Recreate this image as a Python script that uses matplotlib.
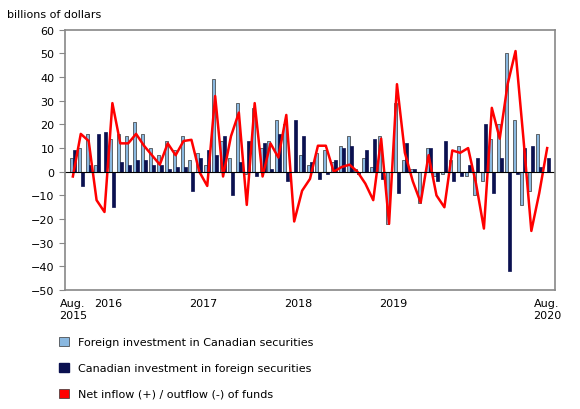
import matplotlib
matplotlib.use("Agg")
import matplotlib.pyplot as plt
import numpy as np
from matplotlib.patches import Patch
from matplotlib.lines import Line2D

# Monthly, Aug 2015 - Aug 2020
foreign = [6, 10, 16, 3, 0, 14, 16, 15, 21, 16, 10, 7, 13, 9, 15, 5, 8, 3, 39, 13,
           6, 29, -1, 27, 10, 13, 22, 20, 0, 7, 3, 8, 9, 4, 11, 15, 1, 6, 2, 15,
           -22, 29, 5, 1, -13, 10, -2, -1, 5, 11, -2, -10, -4, 14, 20, 50, 22, -14, -8, 16]
canadian = [9, -6, 3, 16, 17, -15, 4, 3, 5, 5, 3, 3, 1, 2, 2, -8, 6, 9, 7, 15,
            -10, 4, 13, -2, 12, 1, 16, -4, 22, 15, 4, -3, -1, 5, 10, 11, -1, 9, 14, -3,
            0, -9, 12, 1, 0, 10, -4, 13, -4, -2, 3, 6, 20, -9, 6, -42, -1, 10, 11, 2, 6]
net = [-2, 16, 13, -12, -17, 29, 12, 12, 16, 11, 7, 3, 12, 7, 13, 13.5, 0, -6, 32, -2,
       15, 25, -14, 29, -2, 12, 6, 24, -21, -8, -3, 11, 11, 0, 2, 3, 0, -5, -12, 14,
       -22, 37, 8, -4, -13, 7, -10, -15, 9, 8, 10, -5, -24, 27, 14, 37, 51, 14, -25, -9, 10]
foreign = foreign + [0] * (len(net) - len(foreign))
canadian = canadian[:len(net)]
tick_labels = ["Aug.\n2015", "2016", "2017", "2018", "2019", "Aug.\n2020"]
tick_months = [0, 5, 17, 29, 41, 60]

x = np.arange(len(net))
fig = plt.figure(figsize=(5.8, 4.1), dpi=100)
ax = fig.add_axes([0.112, 0.29, 0.845, 0.635])
w = 0.38
ax.bar(x - w / 2, foreign, w, color="#8ab8e0", edgecolor="#333333", linewidth=0.5)
ax.bar(x + w / 2, canadian, w, color="#0a1050", edgecolor="#0a1050", linewidth=0.5)
ax.plot(x, net, color="#ff0000", lw=1.8)
ax.axhline(0, color="black", lw=0.8)
ax.set_xlim(-1, len(net))
ax.set_ylim(-50, 60)
ax.set_yticks(range(-50, 61, 10))
ax.set_xticks([m - 0.5 if 0 < m < 60 else m for m in tick_months])
ax.set_xticklabels(tick_labels, fontsize=8)
ax.tick_params(axis="y", labelsize=8, length=4, color="#888888")
ax.tick_params(axis="x", length=0, pad=6)
for s in ax.spines.values():
    s.set_color("#888888")
    s.set_linewidth(1.2)
fig.text(0.012, 0.975, "billions of dollars", fontsize=8, va="top")

handles = [Patch(facecolor="#8ab8e0", edgecolor="#333333", lw=0.5),
           Patch(facecolor="#0a1050", edgecolor="#0a1050"),
           Patch(facecolor="#ff0000", edgecolor="#333333", lw=0.5)]
labels = ["Foreign investment in Canadian securities",
          "Canadian investment in foreign securities",
          "Net inflow (+) / outflow (-) of funds"]
fig.legend(handles, labels, loc="lower left", bbox_to_anchor=(0.085, 0.0),
           frameon=False, fontsize=8, handlelength=0.9, handleheight=0.9,
           labelspacing=1.4)
fig.savefig("out.png", dpi=100)
